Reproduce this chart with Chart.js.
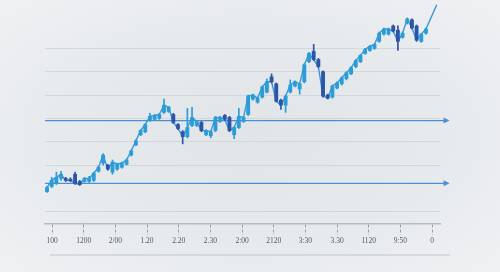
<!DOCTYPE html>
<html>
<head>
<meta charset="utf-8">
<script src="https://cdn.jsdelivr.net/npm/chart.js@4"></script>
<style>
html,body{margin:0;padding:0}
body{width:500px;height:272px;overflow:hidden;background:radial-gradient(ellipse at 50% 50%,#e1e5e8 0%,#e7eaed 55%,#eff1f3 100%)}
#chartCanvas{display:block}
</style>
</head>
<body>
<canvas id="chartCanvas" width="500" height="272"></canvas>
<script>
let tickLabels=["100","1200","2/00","1.20","2.20","2.30","2:00","2120","3:30","3.30","1120","9:50","0"]

let opens=[8.7,10.9,12.2,14.3,14.3,14.0,16.1,13.0,13.0,13.0,13.5,17.4,20.9,20.0,17.0,18.3,19.1,20.4,24.3,28.7,
33.0,34.3,39.1,39.6,40.0,42.6,43.0,41.7,37.4,34.3,32.2,37.0,37.0,38.3,33.0,32.6,34.8,38.7,41.3,40.4,
33.0,36.1,38.7,41.7,48.3,47.0,49.1,51.3,57.8,54.8,47.8,45.7,51.3,53.9,52.6,55.7,64.3,68.7,65.2,60.0,
50.0,49.1,53.0,54.8,57.0,59.1,62.2,64.3,67.8,69.1,70.0,73.0,76.1,76.1,79.6,77.8,74.8,80.9,82.2,79.6,
73.0,76.5]
let closes=[10.4,13.5,14.8,16.1,13.5,13.4,12.2,11.7,14.3,14.3,16.5,19.1,24.3,18.3,21.3,20.4,20.9,22.2,26.1,30.4,
34.8,37.4,40.9,41.3,41.7,45.7,44.8,38.3,35.7,32.2,36.1,40.4,38.7,34.8,34.8,34.3,40.4,40.4,39.6,34.8,
36.1,40.9,40.4,49.6,50.0,48.7,53.5,55.7,55.7,47.4,45.7,49.6,54.3,55.7,54.8,63.0,67.8,65.2,62.2,49.6,
48.7,53.9,55.2,57.4,59.6,61.7,64.8,67.0,69.6,70.9,71.7,76.5,78.3,78.3,77.4,73.0,76.5,82.6,78.7,73.5,
76.1,78.3]
let highs=[10.9,14.8,17.0,17.4,14.8,14.6,17.0,13.5,14.8,15.2,17.0,19.6,24.8,20.4,22.2,20.9,21.3,22.6,26.5,30.9,
35.2,37.8,42.2,41.7,42.2,48.3,45.2,42.2,37.8,34.8,44.3,44.8,39.1,38.7,35.2,34.8,40.9,40.9,41.7,40.9,
36.5,44.3,40.9,50.0,50.4,49.1,53.9,57.0,59.1,55.2,48.3,50.0,56.5,56.1,55.2,63.5,68.3,71.7,65.7,60.4,
50.4,54.3,55.7,57.8,60.0,62.2,65.2,67.4,70.0,71.3,72.2,77.0,78.7,78.7,80.0,79.6,77.0,83.0,82.6,80.0,
76.5,78.7]
let lows=[8.3,10.4,11.7,13.5,13.0,13.0,11.7,11.3,12.6,12.6,13.0,17.0,20.0,17.8,16.1,17.8,18.7,20.0,23.9,28.3,
32.6,33.9,38.7,39.1,39.6,42.2,42.6,37.8,35.2,29.1,31.7,36.5,36.5,34.3,32.6,31.7,34.3,38.3,39.1,34.3,
31.3,35.7,38.3,41.3,47.8,46.5,48.7,50.9,55.2,47.0,43.9,42.6,50.9,53.5,50.4,55.2,63.9,64.8,61.7,49.1,
48.3,48.7,52.6,54.3,56.5,58.7,61.7,63.9,67.4,68.7,69.6,72.6,75.7,75.7,77.0,69.1,74.3,80.4,78.3,73.0,
72.6,76.1]
let lastValue=88.7
let levels=[39.1,12.2]

let lightBlue="#2a9cd8"
let darkBlue="#2c55a9"
let lineBlue="#3a98d6"
let levelBlue="#4a90d2"

let xMin=-0.43
let xMax=84
let tickStart=1.07
let tickStep=6.77

let upColors=opens.map((o,i)=>closes[i]>=o?lightBlue:darkBlue)
let bodies=opens.map((o,i)=>({x:i,y:[Math.min(o,closes[i]),Math.max(o,closes[i])]}))
let wicks=highs.map((h,i)=>({x:i,y:[lows[i],h]}))
let trend=closes.map((c,i)=>({x:i,y:c}))
trend.unshift({x:-0.3,y:opens[0]})
trend.push({x:83.3,y:lastValue})

let levelSets=levels.map(v=>({
    type:"line",
    isLevel:true,
    data:[{x:xMin,y:v},{x:85.3,y:v}],
    borderColor:levelBlue,
    backgroundColor:levelBlue,
    borderWidth:1.2,
    pointRadius:0,
    clip:false,
    order:4
}))

// arrow heads sit outside the plot area, so Chart.js would not draw them as points
let arrowHeads={
    id:"arrowHeads",
    afterDatasetsDraw(chart){
        chart.data.datasets.forEach((ds,i)=>{
            if(!ds.isLevel)return
            let pts=chart.getDatasetMeta(i).data
            let p=pts[pts.length-1]
            let c=chart.ctx
            c.save()
            c.fillStyle=levelBlue
            c.beginPath()
            c.moveTo(p.x+3.5,p.y)
            c.lineTo(p.x-2.5,p.y-3)
            c.lineTo(p.x-2.5,p.y+3)
            c.closePath()
            c.fill()
            c.restore()
        })
    }
}

let shadowLine={
    id:"shadowLine",
    beforeDraw(chart){
        let c=chart.ctx
        let a=chart.chartArea
        c.save()
        c.strokeStyle="rgba(120,130,140,0.18)"
        c.lineWidth=2
        c.beginPath()
        c.moveTo(a.left+5,a.bottom+31)
        c.lineTo(a.right+10,a.bottom+31)
        c.stroke()
        c.restore()
    }
}

let chartCanvas=document.querySelector("#chartCanvas")
let chart=new Chart(chartCanvas,{
    data:{
        datasets:[
            ...levelSets,
            {type:"line",data:trend,borderColor:lineBlue,borderWidth:1.4,pointRadius:0,tension:0,order:3},
            {type:"bar",data:wicks,backgroundColor:upColors,barThickness:1,grouped:false,order:2},
            {type:"bar",data:bodies,backgroundColor:upColors,barThickness:3.2,grouped:false,order:1}
        ]
    },
    options:{
        responsive:false,
        animation:false,
        layout:{padding:{left:45,right:60,top:4,bottom:24}},
        plugins:{legend:{display:false},tooltip:{enabled:false}},
        scales:{
            x:{
                type:"linear",
                offset:false,
                min:xMin,
                max:xMax,
                afterBuildTicks:axis=>{axis.ticks=tickLabels.map((l,k)=>({value:tickStart+k*tickStep}))},
                ticks:{
                    autoSkip:false,
                    maxRotation:0,
                    padding:2,
                    color:"#555a60",
                    font:{family:"Liberation Serif",size:7.5},
                    callback:(v,idx)=>tickLabels[idx]
                },
                grid:{offset:false,drawOnChartArea:false,tickLength:11,tickColor:"#9a9fa5",tickWidth:1,tickBorderDash:[3,2]},
                border:{color:"#b7bbc0",width:1.5}
            },
            y:{
                min:-5.2,
                max:89,
                afterBuildTicks:axis=>{axis.ticks=[0,10,20,30,40,50,60,70].map(v=>({value:v}))},
                ticks:{display:false},
                grid:{
                    drawTicks:false,
                    color:ctx=>ctx.tick&&ctx.tick.value===10?"rgba(0,0,0,0)":"#d2d7dc",
                    lineWidth:1
                },
                border:{display:false}
            }
        }
    },
    plugins:[shadowLine,arrowHeads]
})
</script>
</body>
</html>
